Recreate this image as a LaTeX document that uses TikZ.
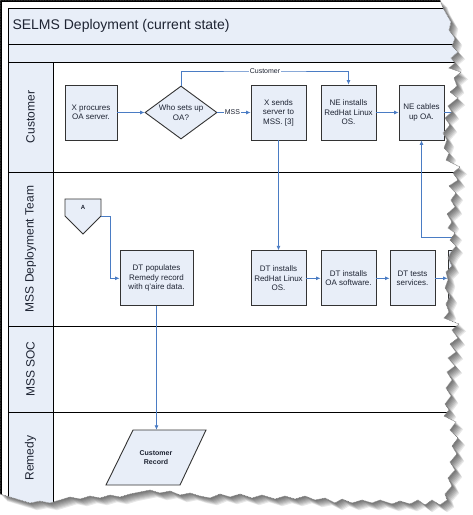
\documentclass[tikz,border=0pt]{standalone}
\usepackage{fontspec}
\setmainfont{Liberation Sans}
\usetikzlibrary{arrows.meta,shapes.geometric}
\definecolor{lanefill}{HTML}{E8EEF8}
\definecolor{connc}{HTML}{4A7CC4}
\definecolor{ink}{HTML}{1E2433}
\definecolor{boxedge}{HTML}{333333}
\newcommand\tornpath[1]{\path[#1] (0,0) -- (440,0) -- (443,8) -- (447,15) -- (451,22) -- (449,30) -- (455,38) -- (452,46) -- (458,52) -- (451,58) -- (455,63) -- (449,68) -- (461,72) -- (454,78) -- (457,86) -- (450,92) -- (458,98) -- (448,106) -- (452,112) -- (445,118) -- (450,125) -- (443,133) -- (447,140) -- (444,148) -- (449,153) -- (446,160) -- (460,167) -- (453,173) -- (458,180) -- (449,186) -- (456,193) -- (451,200) -- (455,207) -- (447,214) -- (452,222) -- (448,228) -- (455,233) -- (450,240) -- (456,246) -- (451,252) -- (448,258) -- (452,266) -- (446,272) -- (448,280) -- (445,288) -- (450,296) -- (446,304) -- (449,312) -- (444,318) -- (459,324) -- (452,330) -- (458,338) -- (450,344) -- (456,352) -- (448,358) -- (455,366) -- (447,372) -- (452,380) -- (446,388) -- (451,396) -- (445,404) -- (449,410) -- (444,416) -- (456,422) -- (450,430) -- (458,438) -- (452,446) -- (457,454) -- (450,462) -- (455,470) -- (448,478) -- (452,486) -- (445,494) -- (447,500) -- (440,505) -- (432,500) -- (425,505) -- (418,500) -- (410,504) -- (400,501) -- (392,504) -- (380,500) -- (372,503) -- (362,500) -- (352,503) -- (342,499) -- (335,503) -- (325,498) -- (315,500) -- (305,496) -- (295,499) -- (285,496) -- (275,499) -- (262,495) -- (252,498) -- (240,494) -- (230,497) -- (220,494) -- (210,498) -- (200,496) -- (190,493) -- (180,495) -- (170,491) -- (160,493) -- (150,490) -- (140,492) -- (130,494) -- (120,497) -- (110,495) -- (100,498) -- (90,496) -- (80,499) -- (70,497) -- (60,500) -- (50,503) -- (40,501) -- (30,503) -- (20,500) -- (10,497) -- (0,494) -- cycle;}
\begin{document}
\begin{tikzpicture}[x=1pt,y=-1pt,
  box/.style={draw=boxedge,line width=0.9pt,fill=lanefill,minimum width=#1,minimum height=55,inner sep=1pt,align=center,font=\fontsize{8}{9.5}\selectfont,text=ink},
  box/.default=55,
  conn/.style={draw=connc,line width=0.8pt,-{Latex[length=4.5pt,width=4pt]}},
  lbl/.style={fill=white,inner sep=0.6pt,font=\fontsize{7}{8}\selectfont,text=ink},
  lanetext/.style={rotate=90,font=\fontsize{12}{14}\selectfont,text=ink},
  rule/.style={draw=black,line width=0.8pt}]
\useasboundingbox (0,0) rectangle (473,515);
% shadow of torn page
\foreach \s in {1,...,8}{\tornpath{fill=black,opacity=0.09,shift={(\s*0.9,\s*0.9)}}}
\tornpath{fill=white}
\begin{scope}
\tornpath{clip}
% outer frame
\draw[black,line width=1.6pt] (1,520) -- (1,1) -- (480,1);
% bands
\fill[lanefill] (8,8) rectangle (480,62);
\fill[lanefill] (8,62) rectangle (53,520);
\draw[rule] (8,520) -- (8,8) -- (480,8);
\draw[rule] (8,44) -- (480,44);
\draw[rule] (8,62) -- (480,62);
\draw[rule] (8,172) -- (480,172);
\draw[rule] (8,326) -- (480,326);
\draw[rule] (8,412) -- (480,412);
\draw[rule] (53,62) -- (53,520);
\node[anchor=west,font=\fontsize{14}{16}\selectfont,text=ink] (title) at (9,26) {SELMS Deployment (current state)};
% lane labels
\node[lanetext] (lc) at (30.5,117) {Customer};
\node[lanetext] (lm) at (30.5,249) {MSS Deployment Team};
\node[lanetext] (ls) at (30.5,369) {MSS SOC};
\node[lanetext] (lr) at (30.5,458) {Remedy};
% customer lane
\node[box=52] (xp) at (91,112.5) {X procures\\OA server.};
\node[diamond,draw=boxedge,line width=0.9pt,fill=lanefill,minimum width=72,minimum height=53,aspect=1.36,inner sep=0pt,align=center,font=\fontsize{8}{9.5}\selectfont,text=ink] (d) at (181,112.5) {Who sets up\\OA?};
\node[box=55] (xs) at (278.5,112.5) {X sends\\server to\\MSS. [3]};
\node[box=55] (nei) at (348.5,112.5) {NE installs\\RedHat Linux\\OS.};
\node[box=45] (nec) at (421.5,112.5) {NE cables\\up OA.};
% deployment lane
\draw[draw=boxedge,line width=0.9pt,fill=lanefill] (65,199) -- (101,199) -- (101,216) -- (83,234) -- (65,216) -- cycle;
\node[font=\bfseries\fontsize{6}{7}\selectfont,text=ink] (A) at (83,207) {A};
\node[box=73] (dtp) at (156.5,278.3) {DT populates\\Remedy record\\with q'aire data.};
\node[box=55] (dtr) at (278.5,278.3) {DT installs\\RedHat Linux\\OS.};
\node[box=55] (dto) at (348.5,278.3) {DT installs\\OA software.};
\node[box=45] (dtt) at (412.5,278.3) {DT tests\\services.};
\node[box=44] (dtx) at (470,278.3) {};
% remedy lane
\draw[draw=boxedge,line width=0.9pt,fill=lanefill] (133,430) -- (206,430) -- (180,485) -- (106,485) -- cycle;
\node[minimum width=80,minimum height=55,align=center,font=\bfseries\fontsize{7}{9.5}\selectfont,text=ink] (cr) at (156,457.5) {Customer\\Record};
% connectors
\coordinate (cl) at (265,71);
\coordinate (Ar) at (101,216);
\coordinate (Ab) at (110,216);
\coordinate (necout) at (464,112.5);
\coordinate (loopin) at (480,237);
\draw[conn] (xp.east) -- (d.west);
\draw[conn] (d.east) -- (xs.west) node[lbl,pos=0.45] {MSS};
\draw[conn] (d.north) |- (cl) -| (nei.north);
\node[lbl] at (cl) {Customer};
\draw[conn] (nei.east) -- (nec.west);
\draw[conn] (nec.east) -- (necout);
\draw[conn] (loopin) -| (nec.south);
\draw[conn] (xs.south) -- (dtr.north);
\draw[conn] (Ar) -- (Ab) |- (dtp.west);
\draw[conn] (dtr.east) -- (dto.west);
\draw[conn] (dto.east) -- (dtt.west);
\draw[conn] (dtt.east) -- (dtx.west);
\draw[conn] (dtp.south) -- (dtp.south |- cr.north);
\end{scope}
\tornpath{draw=black!55,line width=0.5pt,dash pattern=on 1pt off 0.6pt}
\end{tikzpicture}
\end{document}
